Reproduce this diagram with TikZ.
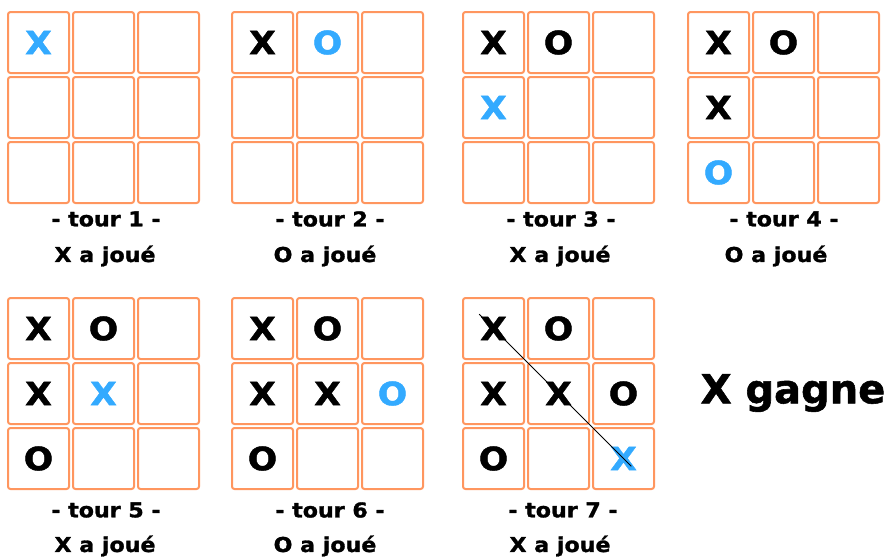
\documentclass[tikz,border=0pt]{standalone}
\usepackage{fontspec}
\setmainfont{DejaVu Sans}
\newfontfamily\noir[FakeBold=1.4, FakeStretch=1.08]{DejaVu Sans Bold}
\newfontfamily\noirgagne[FakeBold=1.4]{DejaVu Sans Bold}
\usetikzlibrary{calc}

\definecolor{orangecase}{RGB}{255,150,95}
\definecolor{bleujoue}{RGB}{51,170,255}

% one 3x3 board: name, left, top
\newcommand{\grille}[3]{%
  \foreach \r in {1,2,3}{
    \foreach \c in {1,2,3}{
      \node[case] (#1-\r-\c) at ({#2+65*(\c-1)+31.5},{#3+65*(\r-1)+31.5}) {};
    }
  }
}

\begin{document}
\begin{tikzpicture}[
    x=1pt, y=-1pt,
    case/.style={draw=orangecase, line width=2pt, rounded corners=2.5pt,
                 minimum width=61pt, minimum height=61pt, inner sep=0pt},
    pion/.style={font=\noir\fontsize{32}{32}\selectfont, inner sep=0pt},
    dernier/.style={text=bleujoue},
    tour/.style={font=\noir\fontsize{20.5}{20.5}\selectfont, inner sep=0pt},
    gagne/.style={font=\noirgagne\fontsize{40}{40}\selectfont, inner sep=0pt},
    ligne/.style={draw=black, line width=0.8pt}
]
\useasboundingbox (0,0) rectangle (891,558);

% Row 1
\grille{b1}{7}{11}
\grille{b2}{231}{11}
\grille{b3}{462}{11}
\grille{b4}{687}{11}

% Row 2
\grille{b5}{7}{297}
\grille{b6}{231}{297}
\grille{b7}{462}{297}

% tour 1
\node[pion, dernier] (b1-x11) at (b1-1-1) {X};
% tour 2
\node[pion] (b2-x11) at (b2-1-1) {X};
\node[pion, dernier] (b2-o12) at (b2-1-2) {O};
% tour 3
\node[pion] (b3-x11) at (b3-1-1) {X};
\node[pion] (b3-o12) at (b3-1-2) {O};
\node[pion, dernier] (b3-x21) at (b3-2-1) {X};
% tour 4
\node[pion] (b4-x11) at (b4-1-1) {X};
\node[pion] (b4-o12) at (b4-1-2) {O};
\node[pion] (b4-x21) at (b4-2-1) {X};
\node[pion, dernier] (b4-o31) at (b4-3-1) {O};
% tour 5
\node[pion] (b5-x11) at (b5-1-1) {X};
\node[pion] (b5-o12) at (b5-1-2) {O};
\node[pion] (b5-x21) at (b5-2-1) {X};
\node[pion, dernier] (b5-x22) at (b5-2-2) {X};
\node[pion] (b5-o31) at (b5-3-1) {O};
% tour 6
\node[pion] (b6-x11) at (b6-1-1) {X};
\node[pion] (b6-o12) at (b6-1-2) {O};
\node[pion] (b6-x21) at (b6-2-1) {X};
\node[pion] (b6-x22) at (b6-2-2) {X};
\node[pion, dernier] (b6-o23) at (b6-2-3) {O};
\node[pion] (b6-o31) at (b6-3-1) {O};
% tour 7
\node[pion] (b7-x11) at (b7-1-1) {X};
\node[pion] (b7-o12) at (b7-1-2) {O};
\node[pion] (b7-x21) at (b7-2-1) {X};
\node[pion] (b7-x22) at (b7-2-2) {X};
\node[pion] (b7-o23) at (b7-2-3) {O};
\node[pion] (b7-o31) at (b7-3-1) {O};
\node[pion, dernier] (b7-x33) at (b7-3-3) {X};

% winning line
\draw[ligne] ($(b7-1-1)!-0.11!(b7-3-3)$) -- ($(b7-1-1)!1.06!(b7-3-3)$);

% captions
\node[tour] (t1) at (106,219) {- tour 1 -};
\node[tour] (j1) at (105,256) {X a joué};
\node[tour] (t2) at (330,219) {- tour 2 -};
\node[tour] (j2) at (325,256) {O a joué};
\node[tour] (t3) at (561,219) {- tour 3 -};
\node[tour] (j3) at (560,256) {X a joué};
\node[tour] (t4) at (784,219) {- tour 4 -};
\node[tour] (j4) at (776,256) {O a joué};
\node[tour] (t5) at (106,510) {- tour 5 -};
\node[tour] (j5) at (105,546) {X a joué};
\node[tour] (t6) at (330,510) {- tour 6 -};
\node[tour] (j6) at (325,546) {O a joué};
\node[tour] (t7) at (563,510) {- tour 7 -};
\node[tour] (j7) at (560,546) {X a joué};

\node[gagne] (fin) at (793,393) {X gagne};

\end{tikzpicture}
\end{document}
